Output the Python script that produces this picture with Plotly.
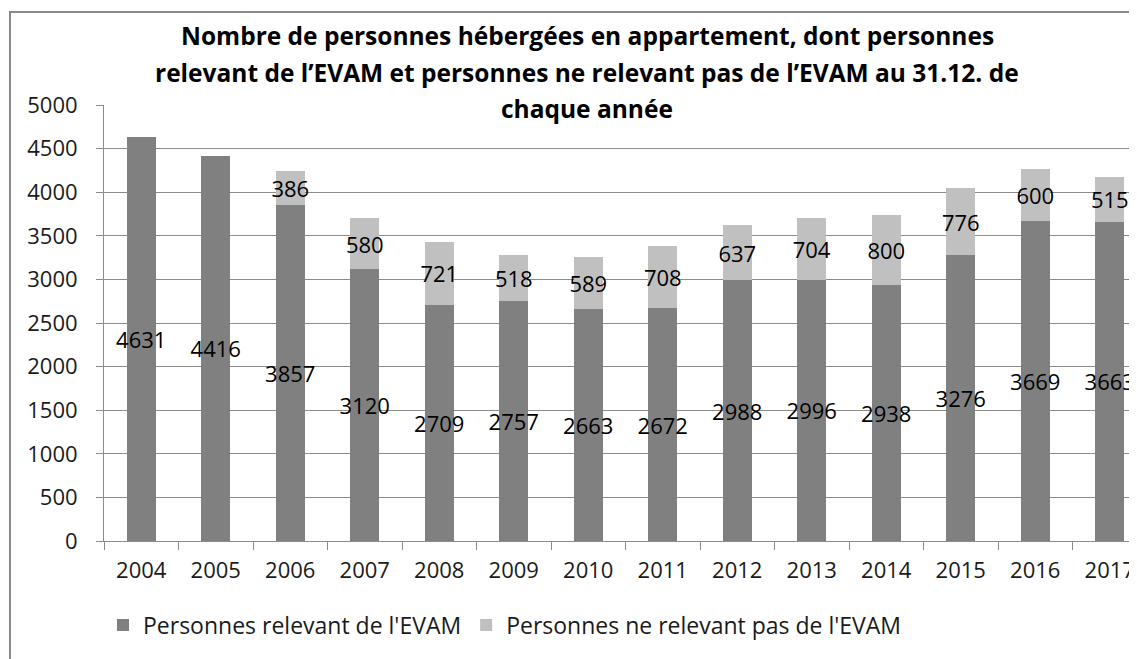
import plotly.graph_objects as go

years = ["2004", "2005", "2006", "2007", "2008", "2009", "2010", "2011",
         "2012", "2013", "2014", "2015", "2016", "2017"]
evam = [4631, 4416, 3857, 3120, 2709, 2757, 2663, 2672, 2988, 2996, 2938, 3276, 3669, 3663]
non_evam = [None, None, 386, 580, 721, 518, 589, 708, 637, 704, 800, 776, 600, 515]
y_ticks = [0, 500, 1000, 1500, 2000, 2500, 3000, 3500, 4000, 4500, 5000]
title_lines = [
    "Nombre de personnes hébergées en appartement, dont personnes",
    "relevant de l’EVAM et personnes ne relevant pas de l’EVAM au 31.12. de",
    "chaque année",
]
series_names = ["Personnes relevant de l'EVAM", "Personnes ne relevant pas de l'EVAM"]

FONT = "Open Sans"
OFF = 8  # page body offset
W, H = 1137, 659
ML, MT = 104 - OFF, 105 - OFF
MB = H - (541 - OFF)
MR = 0
PW = W - ML - MR
PH = H - MT - MB
CAT_W = 74.5

def px_x(p):
    return (p - OFF - ML) / PW

def px_y(p):
    return (H - MB - (p - OFF)) / PH

fig = go.Figure()
fig.add_trace(go.Bar(
    x=years, y=evam, name=series_names[0],
    marker=dict(color="#808080", line=dict(width=0)),
    text=[str(v) for v in evam], textposition="inside", insidetextanchor="middle",
    constraintext="none", textangle=0, cliponaxis=False,
    textfont=dict(family=FONT, size=22, color="#000000"),
    width=0.39,
))
fig.add_trace(go.Bar(
    x=years, y=non_evam, name=series_names[1],
    marker=dict(color="#c0c0c0", line=dict(width=0)),
    text=[("" if v is None else str(v)) for v in non_evam], textposition="inside",
    insidetextanchor="middle",
    constraintext="none", textangle=0, cliponaxis=False,
    textfont=dict(family=FONT, size=22, color="#000000"),
    width=0.39,
))

annotations = []
for i, line in enumerate(title_lines):
    annotations.append(dict(
        text="<b>%s</b>" % line, xref="paper", yref="paper",
        x=px_x(587), y=px_y(36 + 36 * i), xanchor="center", yanchor="middle",
        showarrow=False, font=dict(family=FONT, size=24.5, color="#000000"),
    ))

fig.update_layout(
    width=W, height=H,
    margin=dict(l=ML, r=MR, t=MT, b=MB, autoexpand=False),
    paper_bgcolor="white", plot_bgcolor="white",
    barmode="stack", bargap=0.61,
    font=dict(family=FONT, size=22, color="#1a1a1a"),
    annotations=annotations,
    showlegend=True,
    legend=dict(orientation="h", x=px_x(103), y=px_y(625), xanchor="left", yanchor="middle",
                font=dict(family=FONT, size=23, color="#1a1a1a"),
                traceorder="normal", itemsizing="constant", bgcolor="rgba(0,0,0,0)"),
    shapes=[dict(type="rect", xref="paper", yref="paper",
                 x0=px_x(10), y0=-0.5, x1=1.3, y1=px_y(12),
                 line=dict(color="#8a8a8a", width=2), fillcolor="rgba(0,0,0,0)", layer="below")],
)
fig.update_xaxes(
    type="category", range=[-0.5, -0.5 + PW / CAT_W],
    showline=True, linecolor="#8c8c8c", linewidth=1,
    ticks="outside", tickson="boundaries", ticklen=8, tickcolor="#8c8c8c",
    ticklabelstandoff=10, showgrid=False,
    tickfont=dict(family=FONT, size=22, color="#1a1a1a"),
)
fig.update_yaxes(
    range=[0, 5000], tickvals=y_ticks, ticktext=[str(v) for v in y_ticks],
    showline=True, linecolor="#8c8c8c", linewidth=1,
    ticks="outside", ticklen=7, tickcolor="#8c8c8c",
    showgrid=True, gridcolor="#8c8c8c", gridwidth=1, zeroline=False,
    ticklabelstandoff=14,
    tickfont=dict(family=FONT, size=22, color="#1a1a1a"),
)

fig.write_html("out.html")
